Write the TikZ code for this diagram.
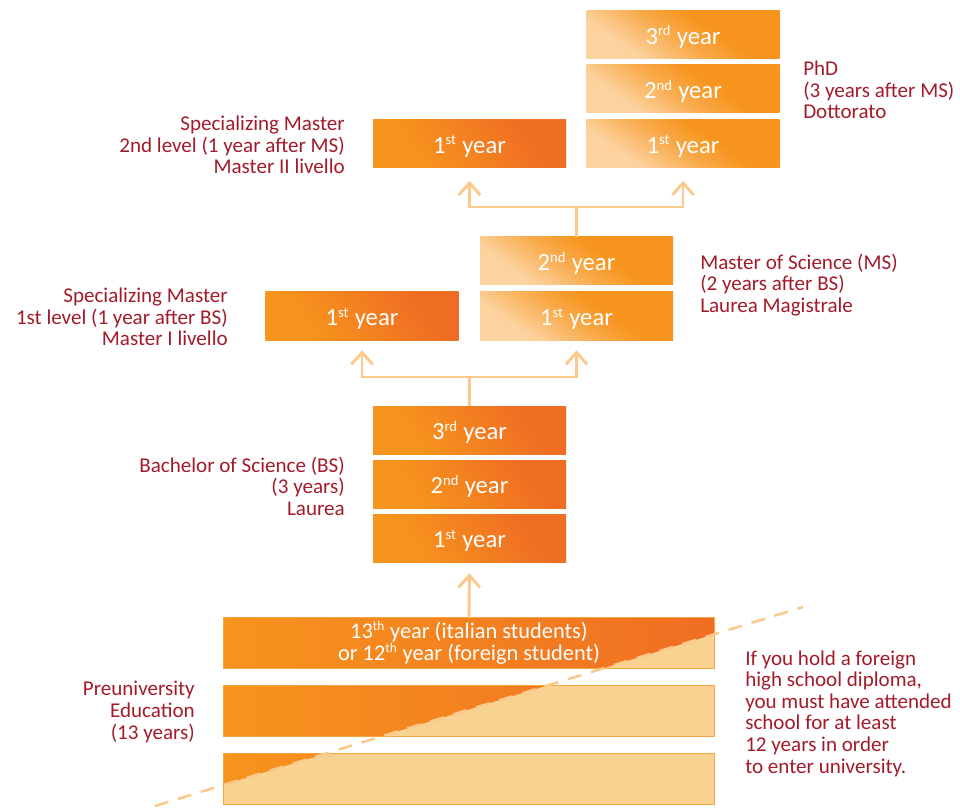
\documentclass[tikz,border=0pt]{standalone}
\usepackage{fontspec}
\setmainfont{Carlito}
\usetikzlibrary{arrows.meta}
\definecolor{org}{HTML}{F7941D}
\definecolor{dorg}{HTML}{F06E23}
\definecolor{lorg}{HTML}{FCD29E}
\definecolor{pale}{HTML}{F9D291}
\definecolor{lnk}{HTML}{FCC98C}
\definecolor{txt}{HTML}{A31B2B}
\pgfdeclarehorizontalshading{darkgrad}{100bp}{color(0bp)=(org); color(30bp)=(org); color(70bp)=(dorg); color(100bp)=(dorg)}
\pgfdeclarehorizontalshading{lightgrad}{100bp}{color(0bp)=(lorg); color(30bp)=(lorg); color(47bp)=(org!65!lorg); color(60bp)=(org); color(100bp)=(org)}
\pgfdeclarehorizontalshading{pregrad}{100bp}{color(0bp)=(org); color(25bp)=(org); color(75bp)=(dorg); color(100bp)=(dorg)}
\tikzset{
  yrbox/.style={minimum width=144.75pt, minimum height=36pt, inner sep=0pt, text=white,
    text height=14.5pt, text depth=0pt, font=\fontsize{18.5}{20}\selectfont},
  darkbox/.style={yrbox, shade, shading=darkgrad, shading angle=35},
  lightbox/.style={yrbox, shade, shading=lightgrad, shading angle=55},
  prebox/.style={minimum width=367.5pt, minimum height=37.5pt, inner sep=0pt, shade, shading=pregrad},
  pretext/.style={text=white, align=center, font=\fontsize{16.8}{16.5}\selectfont},
  lbl/.style={text=txt, font=\fontsize{15.8}{16.2}\selectfont, inner sep=0pt},
  link/.style={draw=lnk, line width=2.2pt},
  linkarrow/.style={link, -{Straight Barb[length=9pt, width=16pt, line width=2.2pt]}},
  dashline/.style={draw=lnk, line width=1.9pt, dash pattern=on 10.5pt off 7.5pt}
}
\newcommand{\yr}[2]{#1\textsuperscript{\fontsize{11}{11}\selectfont #2} year}
\begin{document}
\begin{tikzpicture}[x=0.75pt, y=-0.75pt]
\useasboundingbox (0,0) rectangle (960,809);
% PhD
\node[lightbox] (phd3) at (683,34.5) {\yr{3}{rd}};
\node[lightbox] (phd2) at (683,89) {\yr{2}{nd}};
\node[lightbox] (phd1) at (683,143.5) {\yr{1}{st}};
% Specializing Master II
\node[darkbox] (sm2) at (469.5,143.5) {\yr{1}{st}};
% MS
\node[lightbox] (ms2) at (576.5,261) {\yr{2}{nd}};
\node[lightbox] (ms1) at (576.5,316) {\yr{1}{st}};
% Specializing Master I
\node[darkbox] (sm1) at (362,316) {\yr{1}{st}};
% BS
\node[darkbox] (bs3) at (469.5,430) {\yr{3}{rd}};
\node[darkbox] (bs2) at (469.5,484) {\yr{2}{nd}};
\node[darkbox] (bs1) at (469.5,538) {\yr{1}{st}};
% Preuniversity
\node[prebox] (pre1) at (469,643) {};
\node[prebox] (pre2) at (469,711) {};
\node[prebox] (pre3) at (469,779) {};
\coordinate (dA) at (155,806);
\coordinate (dB) at (803,607);
\foreach \b in {pre1,pre2,pre3}{
  \begin{scope}
    \clip (\b.south west) rectangle (\b.north east);
    \fill[pale] (dA) -- (dB) -- (803,820) -- (155,820) -- cycle;
  \end{scope}
  \draw[org!85, line width=0.7pt] (\b.south west) rectangle (\b.north east);
}
\node[pretext] (pretxt) at (pre1.center) {13\textsuperscript{\fontsize{10}{10}\selectfont th} year (italian students)\\or 12\textsuperscript{\fontsize{10}{10}\selectfont th} year (foreign student)};
\draw[dashline] (dA) -- (dB);
% connectors
\coordinate (j1) at (576.5,207);
\draw[link] (ms2.north) -- (j1);
\draw[linkarrow, shorten >=9.75pt] (j1) -| (sm2.south);
\draw[linkarrow, shorten >=9.75pt] (j1) -| (phd1.south);
\coordinate (j2) at (469.5,377);
\draw[link] (bs3.north) -- (j2);
\draw[linkarrow, shorten >=7.5pt] (j2) -| (sm1.south);
\draw[linkarrow, shorten >=7.5pt] (j2) -| (ms1.south);
\draw[linkarrow, shorten >=8.25pt] (pre1.north) -- (bs1.south);
% labels
\node[lbl, anchor=west, align=left] (lphd) at (803,90) {PhD\\(3 years after MS)\\Dottorato};
\node[lbl, anchor=east, align=right] (lsm2) at (345,145) {Specializing Master\\2nd level (1 year after MS)\\Master II livello};
\node[lbl, anchor=west, align=left] (lms) at (700,285) {Master of Science (MS)\\(2 years after BS)\\Laurea Magistrale};
\node[lbl, anchor=east, align=right] (lsm1) at (228,317) {Specializing Master\\1st level (1 year after BS)\\Master I livello};
\node[lbl, anchor=east, align=right] (lbs) at (345,486) {Bachelor of Science (BS)\\(3 years)\\Laurea};
\node[lbl, anchor=east, align=right] (lpre) at (195,712) {Preuniversity\\Education\\(13 years)};
\node[lbl, anchor=west, align=left] (lnote) at (745,713.5) {If you hold a foreign\\high school diploma,\\you must have attended\\school for at least\\12 years in order\\to enter university.};
\end{tikzpicture}
\end{document}
